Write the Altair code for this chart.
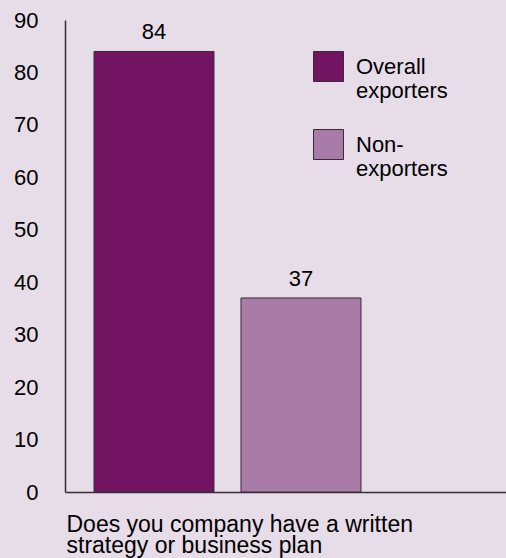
import altair as alt
import pandas as pd

series = ["Overall exporters", "Non-exporters"]
values = [84, 37]
colors = ["#721461", "#a87ca6"]
question = ["Does you company have a written", "strategy or business plan"]
y_ticks = [0, 10, 20, 30, 40, 50, 60, 70, 80, 90]

df = pd.DataFrame({"series": series, "value": values})

FONT = "Liberation Sans"
BG = "#e6dde8"

x = alt.X(
    "series:N",
    sort=series,
    scale=alt.Scale(paddingInner=27 / 147, paddingOuter=0.592, align=0.1667),
    axis=alt.Axis(
        title=question, labels=False, ticks=False,
        domainColor="#333333", domainWidth=1.5,
        titleAnchor="start", titleAlign="left", titleFontSize=23,
        titleFontWeight="normal", titleColor="black", titlePadding=21,
        titleLineHeight=21, titleFont=FONT, titleX=1,
    ),
)
y = alt.Y(
    "value:Q",
    scale=alt.Scale(domain=[0, 90], nice=False),
    axis=alt.Axis(
        values=y_ticks, title=None, grid=False, ticks=False, labelPadding=27,
        labelFontSize=22, labelColor="black", labelFont=FONT,
        domainColor="#333333", domainWidth=1.5,
    ),
)

bars = alt.Chart(df).mark_bar(stroke="#3a2a3a", strokeWidth=1).encode(
    x=x,
    y=y,
    color=alt.Color(
        "series:N",
        scale=alt.Scale(domain=series, range=colors),
        legend=alt.Legend(
            orient="none", legendX=248, legendY=31, title=None,
            symbolType="square", symbolSize=900, symbolStrokeColor="#3a2a3a",
            symbolStrokeWidth=1, symbolOpacity=1,
            labelFontSize=22, labelFont=FONT, labelColor="black",
            labelExpr="datum.label == 'Overall exporters' ? ['Overall', 'exporters'] : ['Non-', 'exporters']",
            labelOffset=12, rowPadding=25, labelLimit=300, padding=0, offset=0,
        ),
    ),
)

labels = alt.Chart(df).mark_text(
    dy=-12, baseline="alphabetic", fontSize=22, font=FONT, color="black"
).encode(x=alt.X("series:N", sort=series), y="value:Q", text="value:Q")

chart = (
    alt.layer(bars, labels)
    .properties(
        width=441, height=472, background=BG,
        autosize=alt.AutoSizeParams(type="none"),
        padding={"left": 65, "top": 20, "right": 0, "bottom": 66},
    )
    .configure_view(stroke=None)
)

chart.save("out.html", embed_options={"renderer": "svg", "actions": False})
